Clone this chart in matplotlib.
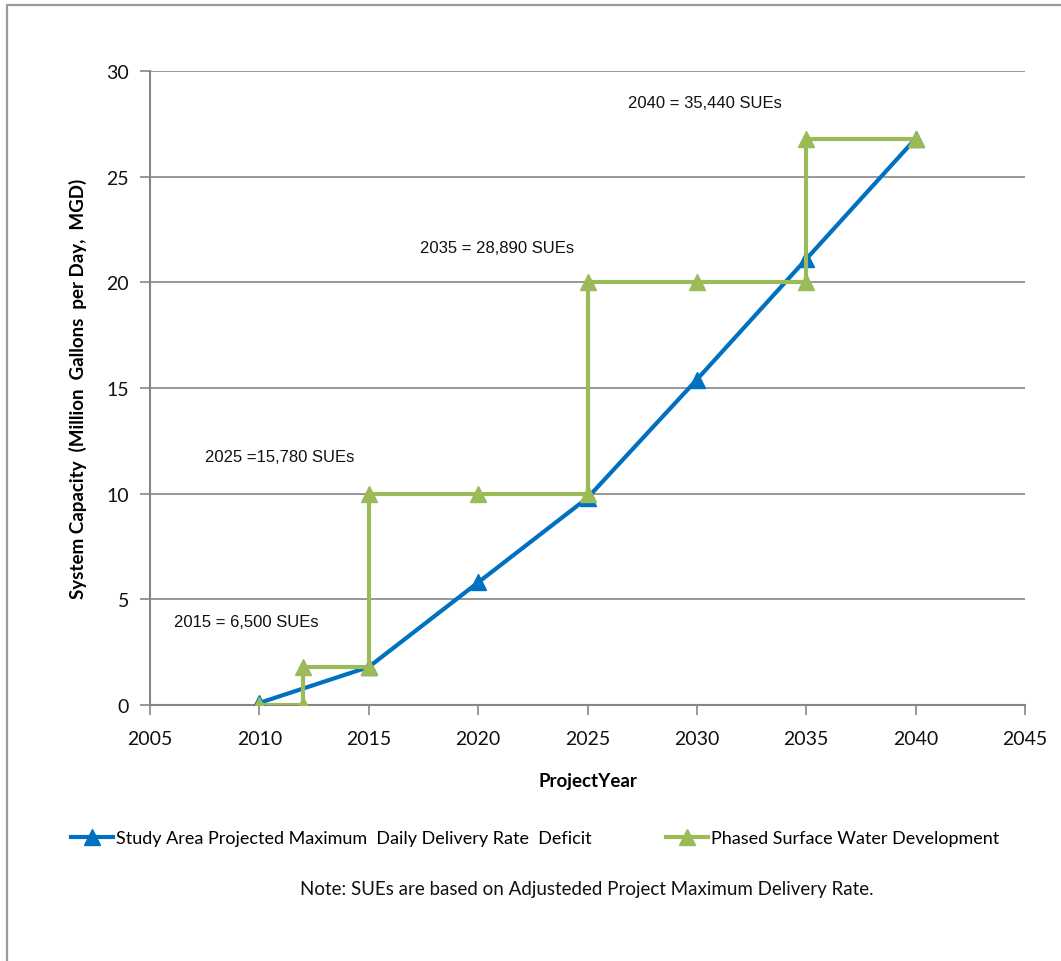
import matplotlib
matplotlib.use("Agg")

import matplotlib.pyplot as plt
from matplotlib.lines import Line2D

# Projected deficit (blue) and phased surface water capacity (green step line)
deficit_years = [2010, 2015, 2020, 2025, 2030, 2035, 2040]
deficit_mgd = [0.1, 1.8, 5.8, 9.8, 15.4, 21.1, 26.8]

phase_years = [2010, 2012, 2012, 2015, 2015, 2020, 2025, 2025, 2030, 2035, 2035, 2040]
phase_mgd = [0, 0, 1.8, 1.8, 10, 10, 10, 20, 20, 20, 26.8, 26.8]

sue_labels = ["2015 = 6,500 SUEs", "2025 =15,780 SUEs", "2035 = 28,890 SUEs", "2040 = 35,440 SUEs"]
sue_x = [2006.1, 2007.5, 2017.35, 2026.85]
sue_y = [3.97, 11.74, 21.67, 28.49]

blue = "#0070C0"
green = "#9BBB59"
grey = "#868686"

fig = plt.figure(figsize=(10.61, 9.62), dpi=100)
ax = fig.add_axes([0.1414, 0.2661, 0.8247, 0.6591])

l1, = ax.plot(deficit_years, deficit_mgd, color=blue, lw=3, marker="^", ms=12, zorder=3)
l2, = ax.plot(phase_years, phase_mgd, color=green, lw=3, marker="^", ms=12, zorder=4)

for txt, x, y in zip(sue_labels, sue_x, sue_y):
    ax.text(x, y, txt, ha="left", va="center", fontsize=12,
            family="Liberation Sans", color="#111111")

ax.set_xlim(2005, 2045)
ax.set_ylim(0, 30)
ax.set_xticks(range(2005, 2046, 5))
ax.set_yticks(range(0, 31, 5))
ax.yaxis.grid(True, color=grey, lw=1.2)
ax.set_axisbelow(True)
for side in ["top", "right"]:
    ax.spines[side].set_visible(False)
for side in ["left", "bottom"]:
    ax.spines[side].set_color(grey)
    ax.spines[side].set_linewidth(1.5)
ax.tick_params(colors=grey, length=7, width=1.2, labelcolor="#111111",
               labelsize=14, direction="out")
for lab in ax.get_xticklabels() + ax.get_yticklabels():
    lab.set_family("Lato")
ax.tick_params(axis="x", pad=11)
ax.tick_params(axis="y", pad=8)

ax.set_xlabel("ProjectYear", fontsize=13.5, fontweight="bold", family="Lato", labelpad=18)
ax.set_ylabel("System Capacity  (Million  Gallons  per Day,  MGD)", fontsize=13.5,
              fontweight="bold", family="Lato", labelpad=14)

# two legend entries placed separately, like the spreadsheet layout
leg_font = {"family": "Lato", "size": 13}
leg1 = fig.legend([l1], ["Study Area Projected Maximum  Daily Delivery Rate  Deficit"],
                  loc="center left", bbox_to_anchor=(55 / 1061, 1 - 839 / 962),
                  frameon=False, handlelength=2.3, handletextpad=0.2, prop=leg_font)
leg2 = fig.legend([l2], ["Phased Surface Water Development"],
                  loc="center left", bbox_to_anchor=(650 / 1061, 1 - 839 / 962),
                  frameon=False, handlelength=2.3, handletextpad=0.2, prop=leg_font)

fig.text(587 / 1061, 1 - 890 / 962,
         "Note: SUEs are based on Adjusteded Project Maximum Delivery Rate.",
         ha="center", va="center", fontsize=13.5, family="Lato", color="#111111")

# outer chart border (left and top edges)
fig.add_artist(Line2D([7 / 1061, 7 / 1061, 1.0], [0.0, 1 - 6 / 962, 1 - 6 / 962],
                      transform=fig.transFigure, color="#9a9a9a", lw=1.6))

fig.savefig("out.png", dpi=100)
plt.close()
